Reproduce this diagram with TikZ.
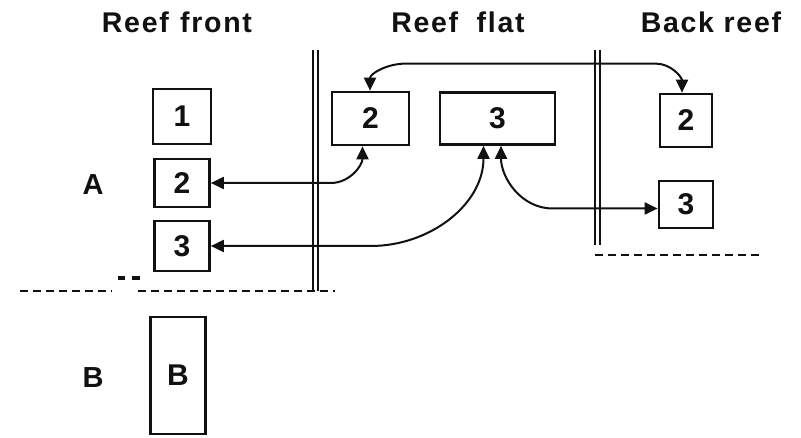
\documentclass[tikz,border=0pt]{standalone}
\usepackage{fontspec}
\setmainfont{Liberation Sans}
\newfontfamily\headfont[LetterSpace=6]{Liberation Sans}
\usetikzlibrary{arrows.meta,positioning,calc}
\definecolor{Paper}{HTML}{FFFFFF}
\definecolor{Ink}{HTML}{111111}
\tikzset{
  zonehead/.style={anchor=base,inner sep=0pt,font=\headfont\fontsize{28.5}{30}\selectfont\bfseries,text=Ink},
  sidelabel/.style={inner sep=0pt,font=\fontsize{29}{30}\selectfont\bfseries,text=Ink},
  zonebox/.style={draw=Ink,fill=Paper,line width=2.7pt,inner sep=0pt,align=center,font=\fontsize{30}{32}\selectfont\bfseries,text=Ink},
  link/.style={{Triangle[length=13pt,width=12pt]}-{Triangle[length=13pt,width=12pt]},draw=Ink,line width=2pt},
  wall/.style={draw=Ink,double=Paper,double distance=3pt,line width=1.9pt},
  shore/.style={draw=Ink,line width=2.2pt,dash pattern=on 8pt off 5pt}
}

\begin{document}
\begin{tikzpicture}[x=1pt,y=-1pt]
  \useasboundingbox[fill=Paper] (0,0) rectangle (801,438);

  \node[zonehead] (hfront) at (177,33) {Reef\hspace{0.4em}front};
  \node[zonehead] (hflat) at (458,33) {Reef\hspace{0.65em}flat};
  \node[zonehead] (hback) at (711,33) {Back reef};

  \draw[wall] (315.5,50) -- (315.5,291);
  \draw[wall] (597.5,50) -- (597.5,245);

  \draw[shore] (20,291) -- (112,291);
  \draw[shore] (138,291) -- (335,291);
  \draw[shore] (595,255) -- (762,255);
  \draw[draw=Ink,line width=3.5pt] (118,278) -- (125,278) (132,278) -- (140,278);

  \node[zonebox,minimum width=58pt,minimum height=55pt] (fr1) at (182,116.5) {1};
  \node[zonebox,minimum width=55pt,minimum height=48pt,below=12.3pt of fr1] (fr2) {2};
  \node[zonebox,minimum width=55pt,minimum height=50pt,below=11.3pt of fr2] (fr3) {3};
  \node[zonebox,minimum width=55pt,minimum height=117pt,below=43.3pt of fr3,xshift=-4pt] (frB) {B};
  \node[sidelabel] (labA) at (93,185) {A};
  \node[sidelabel] (labB) at (93,378) {B};

  \node[zonebox,minimum width=77pt,minimum height=53pt] (fl2) at (370.5,118.5) {2};
  \node[zonebox,minimum width=115pt,minimum height=52pt,right=28.3pt of fl2] (fl3) {3};

  \node[zonebox,minimum width=52pt,minimum height=53pt] (bk2) at (686,120.5) {2};
  \node[zonebox,minimum width=54pt,minimum height=47pt,below=31.3pt of bk2] (bk3) {3};

  \draw[link] ([xshift=-0.5pt]fl2.north) to[out=90,in=180] ++(35,-27)
    -- ($(bk2.north)+(-30,-29)$) to[out=0,in=90] ([xshift=-4pt]bk2.north);
  \draw[link] (fr2.east) -- ++(120,0) to[out=0,in=-90] ([xshift=-8pt]fl2.south);
  \draw[link] (fr3.east) -- ++(160,0) to[out=0,in=-90] ([xshift=-14pt]fl3.south);
  \draw[link] ([xshift=3.5pt]fl3.south) to[out=-90,in=180] ($(bk3.west)+(-105,4)$)
    -- ($(bk3.west)+(0,4)$);
\end{tikzpicture}
\end{document}
